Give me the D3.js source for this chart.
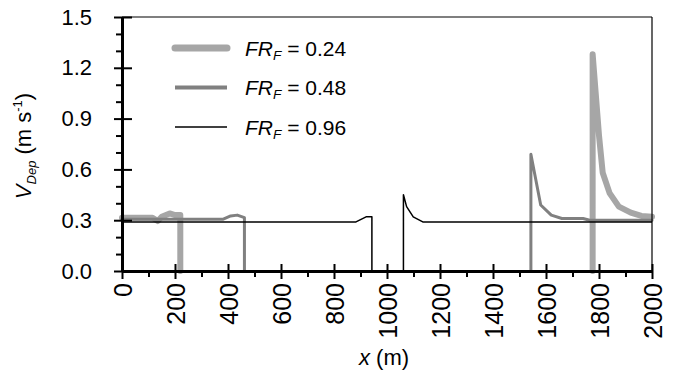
<!DOCTYPE html>
<html>
<head>
<meta charset="utf-8">
<script src="https://cdn.jsdelivr.net/npm/d3@7"></script>
<style>
  html, body { margin: 0; padding: 0; background: #fff; }
  svg { display: block; font-family: "Liberation Sans", Arial, sans-serif; }
</style>
</head>
<body>
<svg id="chart" width="691" height="378"></svg>
<script>
// series, NaN = gap in the line
const X_024 = [0, 115, 135, 150, 180, 200, 220, 220, NaN, 1776, 1776, 1800, 1814, 1840, 1875, 1920, 1960, 2000]
const V_024 = [0.315, 0.315, 0.295, 0.32, 0.34, 0.33, 0.33, 0, NaN, 0, 1.28, 0.80, 0.58, 0.46, 0.38, 0.345, 0.325, 0.32]

const X_048 = [0, 380, 410, 435, 462, 462, NaN, 1543, 1543, 1580, 1620, 1660, 1740, 1765, 2000]
const V_048 = [0.305, 0.305, 0.325, 0.33, 0.315, 0, NaN, 0, 0.69, 0.39, 0.33, 0.31, 0.31, 0.30, 0.30]

const X_096 = [0, 883, 921, 943, 943, NaN, 1062, 1062, 1074, 1099, 1135, 2000]
const V_096 = [0.29, 0.29, 0.32, 0.32, 0, NaN, 0, 0.45, 0.38, 0.32, 0.29, 0.29]

const SERIES = [
  { label: "0.24", xs: X_024, ys: V_024, color: "#a6a6a6", width: 6 },
  { label: "0.48", xs: X_048, ys: V_048, color: "#808080", width: 3 },
  { label: "0.96", xs: X_096, ys: V_096, color: "#000000", width: 1.5 }
]

const X_TICKS = [0, 200, 400, 600, 800, 1000, 1200, 1400, 1600, 1800, 2000]
const X_MINOR = [100, 300, 500, 700, 900, 1100, 1300, 1500, 1700, 1900]
const Y_TICKS = [0, 0.3, 0.6, 0.9, 1.2, 1.5]
const Y_MINOR = [0.1, 0.2, 0.4, 0.5, 0.7, 0.8, 1.0, 1.1, 1.3, 1.4]

const plotLeft = 122, plotRight = 652, plotTop = 17, plotBottom = 271
const fs = 21

const svg = d3.select("#chart")

const x = d3.scaleLinear().domain([0, 2000]).range([plotLeft, plotRight])
const y = d3.scaleLinear().domain([0, 1.5]).range([plotBottom, plotTop])

// data lines (first series at the back, like the original)
const line = d3.line()
  .defined(d => !isNaN(d[0]) && !isNaN(d[1]))
  .x(d => x(d[0]))
  .y(d => y(d[1]))

for (const s of SERIES) {
  svg.append("path")
    .datum(s.xs.map((v, i) => [v, s.ys[i]]))
    .attr("fill", "none")
    .attr("stroke", s.color)
    .attr("stroke-width", s.width)
    .attr("stroke-linejoin", "round")
    .attr("stroke-linecap", s.width > 2 ? "round" : "butt")
    .attr("d", line)
}

// frame: thin top and right
svg.append("line")
  .attr("x1", plotLeft).attr("x2", plotRight).attr("y1", plotTop).attr("y2", plotTop)
  .attr("stroke", "#000").attr("stroke-width", 1.2)
svg.append("line")
  .attr("x1", plotRight).attr("x2", plotRight).attr("y1", plotTop).attr("y2", plotBottom)
  .attr("stroke", "#000").attr("stroke-width", 1.2)

function styleAxis(g, w) {
  g.select(".domain").attr("stroke-width", w)
  g.selectAll(".tick line").attr("stroke-width", 2)
  g.selectAll("text").attr("fill", "#000")
}

// y axis
svg.append("g")
  .attr("transform", `translate(${plotLeft},0)`)
  .call(d3.axisLeft(y).tickValues(Y_MINOR).tickSize(6).tickSizeOuter(0).tickFormat(""))
  .call(g => styleAxis(g, 3))
svg.append("g")
  .attr("transform", `translate(${plotLeft},0)`)
  .call(d3.axisRight(y).tickValues(Y_TICKS).tickSize(10).tickSizeOuter(0).tickFormat(""))
  .call(g => g.select(".domain").remove())
  .call(g => g.selectAll(".tick line").attr("stroke-width", 2))
svg.append("g")
  .attr("transform", `translate(${plotLeft},0)`)
  .call(d3.axisLeft(y).tickValues(Y_TICKS).tickSize(8).tickSizeOuter(0)
    .tickPadding(22).tickFormat(d3.format(".1f")))
  .call(g => styleAxis(g, 3))
  .call(g => g.selectAll("text").attr("font-size", fs + 1).attr("font-family", "Liberation Sans, Arial, sans-serif"))

// x axis
svg.append("g")
  .attr("transform", `translate(0,${plotBottom})`)
  .call(d3.axisBottom(x).tickValues(X_MINOR).tickSize(6).tickSizeOuter(0).tickFormat(""))
  .call(g => styleAxis(g, 3))
svg.append("g")
  .attr("transform", `translate(0,${plotBottom})`)
  .call(d3.axisTop(x).tickValues(X_TICKS).tickSize(7).tickSizeOuter(0).tickFormat(""))
  .call(g => g.select(".domain").remove())
  .call(g => g.selectAll(".tick line").attr("stroke-width", 2))
svg.append("g")
  .attr("transform", `translate(0,${plotBottom})`)
  .call(d3.axisBottom(x).tickValues(X_TICKS).tickSize(8).tickSizeOuter(0).tickFormat(d3.format("d")))
  .call(g => styleAxis(g, 3))
  .call(g => g.selectAll("text")
    .attr("font-size", fs + 4)
    .attr("font-family", "Liberation Sans, Arial, sans-serif")
    .attr("transform", "rotate(-90)")
    .attr("x", -12)
    .attr("y", 0)
    .attr("dy", "0.36em")
    .style("text-anchor", "end"))

// axis titles
const xt = svg.append("text")
  .attr("x", 384).attr("y", 365)
  .attr("text-anchor", "middle")
  .attr("font-size", fs + 1)
xt.append("tspan").attr("font-style", "italic").text("x")
xt.append("tspan").text(" (m)")

const yt = svg.append("text")
  .attr("transform", "translate(31,146) rotate(-90)")
  .attr("text-anchor", "middle")
  .attr("font-size", fs + 1)
yt.append("tspan").attr("font-style", "italic").text("V")
yt.append("tspan").attr("font-style", "italic").attr("font-size", fs * 0.62).attr("dy", 5).text("Dep")
yt.append("tspan").attr("dy", -5).text(" (m s")
yt.append("tspan").attr("font-size", fs * 0.62).attr("dy", -9).text("-1")
yt.append("tspan").attr("dy", 9).text(")")

// legend
const legend = svg.append("g")
SERIES.forEach((s, i) => {
  const cy = 48 + i * 39.5
  legend.append("line")
    .attr("x1", 175).attr("x2", 227).attr("y1", cy).attr("y2", cy)
    .attr("stroke", s.color)
    .attr("stroke-width", i === 0 ? 7 : s.width + (i === 1 ? 1 : 0))
    .attr("stroke-linecap", i === 0 ? "round" : "butt")
  const t = legend.append("text")
    .attr("x", 245).attr("y", cy + 7.5)
    .attr("font-size", fs)
  t.append("tspan").attr("font-style", "italic").text("FR")
  t.append("tspan").attr("font-style", "italic").attr("font-size", fs * 0.65).attr("dy", 4).text("F")
  t.append("tspan").attr("dy", -4).text(" = " + s.label)
})
</script>
</body>
</html>
